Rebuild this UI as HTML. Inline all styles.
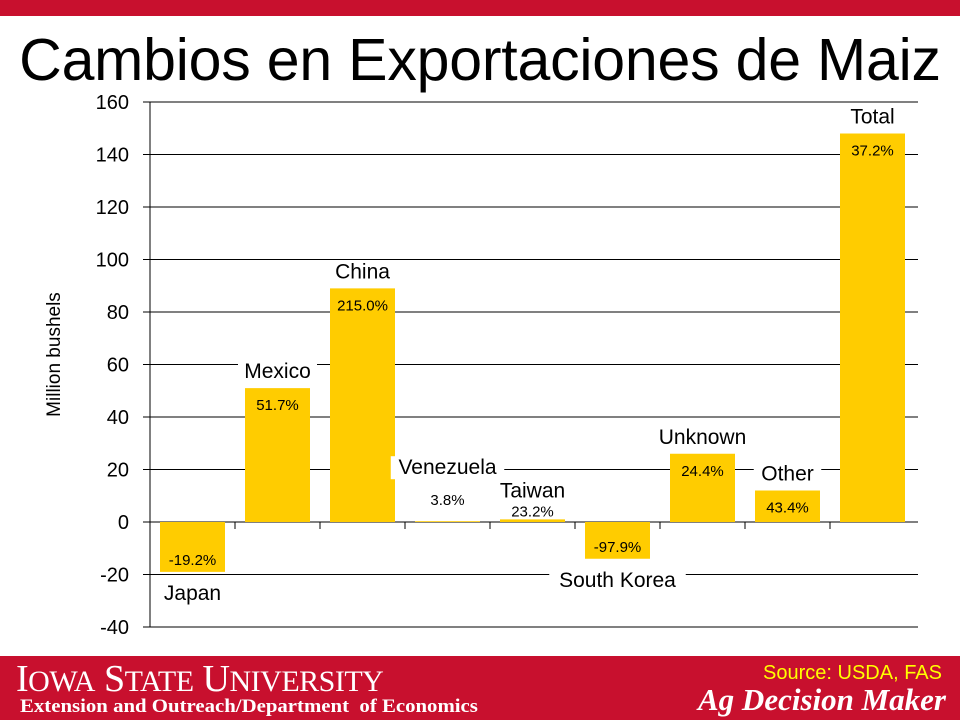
<!DOCTYPE html>
<html><head><meta charset="utf-8"><style>
body{margin:0;width:960px;height:720px;overflow:hidden;background:#fff;font-family:"Liberation Sans",sans-serif;position:relative}
#topbar{position:absolute;left:0;top:0;width:960px;height:16px;background:#c8102e}
#title{position:absolute;left:0;top:25px;width:960px;text-align:center;font-size:59px;color:#000;line-height:70px;letter-spacing:-0.2px}
#banner{position:absolute;left:0;top:656px;width:960px;height:64px;background:#c8102e}
svg{position:absolute;left:0;top:0}
</style></head><body>
<div id="topbar"></div>
<div id="title">Cambios en Exportaciones de Maiz</div>
<div id="banner">
<div style="position:absolute;left:16px;top:1px;font-family:'Liberation Serif',serif;color:#fff;font-size:38px;letter-spacing:-0.5px;white-space:nowrap">I<span style="font-size:30px">OWA</span> S<span style="font-size:30px">TATE</span> U<span style="font-size:30px">NIVERSITY</span></div>
<div style="position:absolute;left:20px;top:40px;font-family:'Liberation Serif',serif;font-weight:bold;color:#fff;font-size:19px;white-space:nowrap;transform:scaleX(1.095);transform-origin:left">Extension and Outreach/Department&nbsp; of Economics</div>
<div style="position:absolute;right:18px;top:6px;color:#ffff00;font-size:20px">Source: USDA, FAS</div>
<div style="position:absolute;right:14px;top:26px;font-family:'Liberation Serif',serif;font-style:italic;font-weight:bold;color:#fff;font-size:31px">Ag Decision Maker</div>
</div>
<svg id="chart" width="960" height="720"></svg>
<script>
const categories=["Japan","Mexico","China","Venezuela","Taiwan","South Korea","Unknown","Other","Total"];
const values=[-19,51,89,0.3,1,-14,26,12,148];
const pctLabels=["-19.2%","51.7%","215.0%","3.8%","23.2%","-97.9%","24.4%","43.4%","37.2%"];
const yTicks=[160,140,120,100,80,60,40,20,0,-20,-40];
(function(){
const NS="http://www.w3.org/2000/svg";
const svg=document.getElementById('chart');
const left=150,right=918,catW=85,yMin=-40,yMax=160,plotTop=102,plotBot=627;
function y(v){return plotBot-(v-yMin)/(yMax-yMin)*(plotBot-plotTop);}
function x(i){return left+i*catW;}
function mk(t,a){const e=document.createElementNS(NS,t);for(const k in a)e.setAttribute(k,a[k]);svg.appendChild(e);return e;}
yTicks.forEach(t=>{
 const g=mk('line',{x1:143,x2:right,y1:y(t),y2:y(t),stroke:'#000','stroke-width':1});
 
 
 const l=mk('text',{x:129,y:y(t)+7,'text-anchor':'end','font-size':20,fill:'#000'});
 l.textContent=t;
 
 
});
const ax=mk('line',{x1:left,x2:left,y1:plotTop,y2:plotBot,stroke:'#000','stroke-width':1});


const yt=mk('text',{x:0,y:0,'font-size':19,'text-anchor':'middle',transform:`translate(60,${(plotTop+plotBot)/2-10}) rotate(-90)`});
yt.textContent='Million bushels';


for(let i=1;i<categories.length;i++){
 const tk=mk('line',{x1:x(i),x2:x(i),y1:y(0),y2:y(0)+7,stroke:'#000'});
 
 
}
categories.forEach((c,i)=>{
 const v=values[i];const cx=x(i)+catW/2;
 const y0=y(0),y1=y(v);
 const r=mk('rect',{x:x(i)+10,width:65,y:Math.min(y0,y1),height:Math.abs(y1-y0),fill:'#ffcc00'});
 
 
 let ny,py,small=Math.abs(y1-y0)<25;
 if(v>=0){ if(small){py=y1-16;ny=py-31;} else {py=y1+22;ny=y1-10;} }
 else { py=y1-7;ny=y1+28; }
 if(c==='Taiwan'){py=y1-3;ny=y1-22;}
 const nw=c.length*11.5+10;
 const bg=mk('rect',{x:cx-nw/2,y:ny-18,width:nw,height:23,fill:'#fff'});
 
 
 const n=mk('text',{x:cx,y:ny,'text-anchor':'middle','font-size':21});
 n.textContent=c;
 
 
 const p=mk('text',{x:cx,y:py,'text-anchor':'middle','font-size':15});
 p.textContent=pctLabels[i];
 
 
});
})();
</script>
</body></html>
